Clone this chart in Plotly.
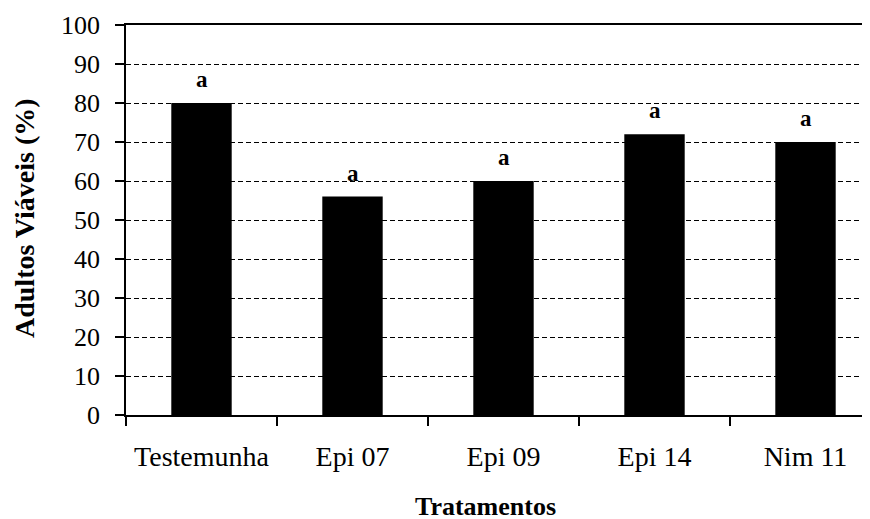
import plotly.graph_objects as go

categories = ["Testemunha", "Epi 07", "Epi 09", "Epi 14", "Nim 11"]
values = [80, 56, 60, 72, 70]
letters = ["a", "a", "a", "a", "a"]
y_ticks = [0, 10, 20, 30, 40, 50, 60, 70, 80, 90, 100]

FONT = "Liberation Serif"

fig = go.Figure()
fig.add_trace(go.Bar(
    x=categories, y=values, width=0.4,
    marker=dict(color="black", line=dict(width=0)),
    showlegend=False,
))

for c, v, t in zip(categories, values, letters):
    fig.add_annotation(x=c, y=v, text=f"<b>{t}</b>", showarrow=False,
                       yanchor="bottom", yshift=9,
                       font=dict(family=FONT, size=23, color="black"))

PW, PH = 755, 390
fig.add_annotation(xref="paper", yref="paper", x=(485 - 126) / PW, y=-(506 - 415) / PH,
                   text="<b>Tratamentos</b>", showarrow=False, xanchor="center", yanchor="middle",
                   font=dict(family=FONT, size=26, color="black"))
fig.add_annotation(xref="paper", yref="paper", x=-(126 - 24) / PW, y=(415 - 218) / PH,
                   text="<b>Adultos Viáveis (%)</b>", showarrow=False, textangle=-90,
                   xanchor="center", yanchor="middle",
                   font=dict(family=FONT, size=28, color="black"))

fig.update_layout(
    width=118 + PW, height=511,
    margin=dict(l=118, r=0, t=17, b=104, autoexpand=False),
    paper_bgcolor="white", plot_bgcolor="white",
    font=dict(family=FONT, size=26, color="black"),
    xaxis=dict(
        type="category", range=[-0.5, 4.5], automargin=False,
        showline=True, linecolor="black", linewidth=1.5, mirror=True,
        ticks="outside", tickson="boundaries", ticklen=9, tickcolor="black", tickwidth=1.5,
        tickangle=0, ticklabelstandoff=16,
        tickfont=dict(family=FONT, size=28, color="black"),
        showgrid=False, zeroline=False,
    ),
    yaxis=dict(
        range=[0, 100], tickvals=y_ticks, automargin=False,
        showline=True, linecolor="black", linewidth=1.5,
        ticks="outside", ticklen=9, tickcolor="black", tickwidth=1.5,
        ticklabelstandoff=10,
        tickfont=dict(family=FONT, size=26, color="black"),
        showgrid=True, gridcolor="black", gridwidth=1, griddash="5px,3px",
        zeroline=False,
    ),
)

fig.write_html("out.html")
